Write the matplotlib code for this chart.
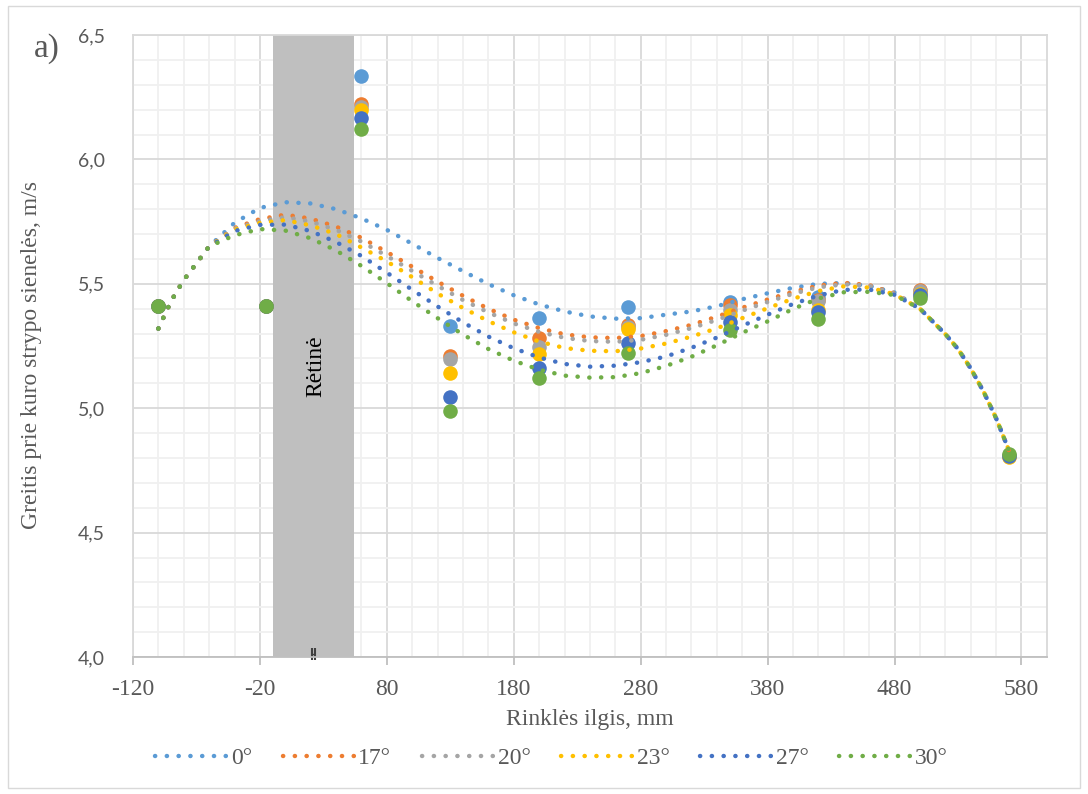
import numpy as np
import matplotlib.pyplot as plt
from matplotlib.patches import Rectangle

# measured positions along the bundle, mm
x_pos = [-100, -15, 60, 130, 200, 270, 350, 420, 500, 570]

# velocity near fuel rod wall, m/s, for each angle
v_0 = [5.41, 5.41, 6.335, 5.33, 5.363, 5.407, 5.427, 5.447, 5.467, 4.81]
v_17 = [5.41, 5.41, 6.223, 5.21, 5.282, 5.334, 5.415, 5.435, 5.475, 4.81]
v_20 = [5.41, 5.41, 6.21, 5.198, 5.246, 5.326, 5.395, 5.43, 5.47, 4.81]
v_23 = [5.41, 5.41, 6.20, 5.141, 5.218, 5.318, 5.375, 5.395, 5.46, 4.805]
v_27 = [5.41, 5.41, 6.167, 5.047, 5.162, 5.262, 5.346, 5.387, 5.455, 4.81]
v_30 = [5.41, 5.41, 6.122, 4.987, 5.121, 5.222, 5.314, 5.36, 5.443, 4.815]

# trend lines
x_trend = [-100, -90, -80, -60, -40, -20, 0, 20, 40, 60, 80, 100, 120, 140, 160, 180,
           200, 220, 240, 260, 280, 300, 320, 340, 360, 380, 400, 420, 440, 460, 480,
           500, 520, 530, 540, 550, 560, 570]
trend_head = [5.32, 5.43, 5.515, 5.65]
trend_tail = [5.40, 5.298, 5.238, 5.16, 5.068, 4.96, 4.832]
t_0 = trend_head + [5.745, 5.805, 5.828, 5.823, 5.80, 5.763, 5.717, 5.661, 5.604, 5.551,
                    5.499, 5.454, 5.417, 5.389, 5.369, 5.36, 5.362, 5.376, 5.389, 5.41,
                    5.438, 5.462, 5.484, 5.50, 5.503, 5.492, 5.465] + trend_tail
t_17 = trend_head + [5.725, 5.76, 5.778, 5.762, 5.73, 5.685, 5.628, 5.569, 5.509, 5.452,
                     5.40, 5.356, 5.322, 5.297, 5.285, 5.282, 5.29, 5.31, 5.335, 5.368,
                     5.404, 5.437, 5.468, 5.493, 5.504, 5.495, 5.462] + trend_tail
t_20 = trend_head + [5.722, 5.752, 5.768, 5.75, 5.717, 5.67, 5.612, 5.552, 5.492, 5.435,
                     5.385, 5.341, 5.307, 5.283, 5.27, 5.267, 5.275, 5.295, 5.322, 5.355,
                     5.392, 5.427, 5.46, 5.486, 5.498, 5.492, 5.46] + trend_tail
t_23 = trend_head + [5.718, 5.745, 5.756, 5.735, 5.70, 5.646, 5.59, 5.527, 5.461, 5.403,
                     5.35, 5.305, 5.268, 5.242, 5.231, 5.229, 5.24, 5.26, 5.288, 5.321,
                     5.362, 5.402, 5.44, 5.471, 5.49, 5.485, 5.458] + trend_tail
t_27 = trend_head + [5.712, 5.737, 5.738, 5.712, 5.668, 5.612, 5.545, 5.476, 5.409, 5.345,
                     5.288, 5.241, 5.204, 5.178, 5.167, 5.171, 5.185, 5.208, 5.243, 5.284,
                     5.331, 5.376, 5.419, 5.453, 5.476, 5.477, 5.456] + trend_tail
t_30 = trend_head + [5.695, 5.72, 5.714, 5.683, 5.634, 5.572, 5.503, 5.43, 5.362, 5.296,
                     5.238, 5.191, 5.155, 5.131, 5.123, 5.125, 5.141, 5.17, 5.207, 5.253,
                     5.303, 5.349, 5.399, 5.441, 5.466, 5.468, 5.455] + trend_tail

labels = ['0°', '17°', '20°', '23°', '27°', '30°']
series = [v_0, v_17, v_20, v_23, v_27, v_30]
trends = [t_0, t_17, t_20, t_23, t_27, t_30]
colors = ['#5B9BD5', '#ED7D31', '#A5A5A5', '#FFC000', '#4472C4', '#70AD47']

spacer_x = (-10, 54)  # gray band "Rėtinė"

serif = 'Liberation Serif'
txt_col = '#595959'

fig = plt.figure(figsize=(10.88, 7.94), dpi=100)
ax = fig.add_axes([0.1222, 0.1725, 0.840, 0.7834])

# chart area border
fig.patches.append(Rectangle((0.007, 0.007), 0.986, 0.986, transform=fig.transFigure,
                             fill=False, edgecolor='#D9D9D9', linewidth=1.0))

ax.axvspan(spacer_x[0], spacer_x[1], color='#BFBFBF', zorder=1, lw=0)
ax.text(24, 5.17, 'Rėtinė', rotation=90, ha='center', va='center',
        fontsize=17, family=serif, color='black', zorder=2)
ax.errorbar([22.5], [4.012], xerr=[1.2], fmt='none', ecolor='#404040', capsize=4,
            elinewidth=1, capthick=1.5, zorder=2, clip_on=False)

handles = []
for vals, c in zip(series, colors):
    ax.scatter(x_pos, vals, s=110, color=c, zorder=3, linewidths=0)
for tr, lab, c in zip(trends, labels, colors):
    h, = ax.plot(x_trend, tr, color=c, lw=3.2,
                 linestyle=(0, (0.05, 2.6)), dash_capstyle='round', zorder=4, label=lab)
    handles.append(h)

ax.set_xlim(-120, 600)
ax.set_ylim(4.0, 6.5)
ax.set_xticks(np.arange(-120, 581, 100))
ax.set_xticks(np.arange(-120, 600, 20), minor=True)
ax.set_yticks(np.arange(4.0, 6.51, 0.5))
ax.set_yticks(np.arange(4.0, 6.51, 0.1), minor=True)
ax.set_yticklabels([f'{v:.1f}'.replace('.', ',') for v in np.arange(4.0, 6.51, 0.5)],
                   family='Lato', fontsize=14, color=txt_col)
ax.set_xticklabels([str(v) for v in np.arange(-120, 581, 100)], family=serif,
                   fontsize=17, color=txt_col)
ax.grid(which='major', color='#D9D9D9', lw=1.3, zorder=0)
ax.grid(which='minor', color='#F0F0F0', lw=1.3, zorder=0)
ax.set_axisbelow(True)
ax.tick_params(axis='y', which='both', length=0, pad=20)
ax.tick_params(axis='x', which='major', length=6, color='#BFBFBF', width=1.3, pad=10)
ax.tick_params(axis='x', which='minor', length=0)
for s in ax.spines.values():
    s.set_color('#D9D9D9')
    s.set_linewidth(1.3)
ax.spines['bottom'].set_color('#BFBFBF')

ax.set_xlabel('Rinklės ilgis, mm', family=serif, fontsize=17, color=txt_col, labelpad=6)
ax.set_ylabel('Greitis prie kuro strypo sienelės, m/s', family=serif, fontsize=17,
              color=txt_col)
ax.yaxis.set_label_coords(-0.10, 0.486)
fig.text(0.031, 0.928, 'a)', family=serif, fontsize=24, color=txt_col, va='baseline')

fig.legend(handles=handles, loc='center', bbox_to_anchor=(0.507, 0.0453), ncol=6,
           frameon=False, handlelength=3.0, handletextpad=0.2, columnspacing=1.3,
           prop={'family': serif, 'size': 17}, labelcolor=txt_col)

fig.savefig('out.png', dpi=100)
